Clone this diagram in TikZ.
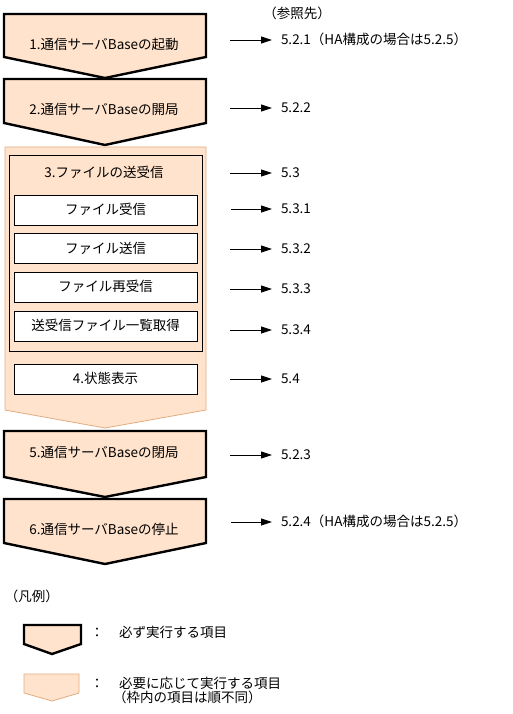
\documentclass[tikz,border=0pt]{standalone}
\usepackage{fontspec}
\setmainfont{Noto Sans CJK JP}
\usetikzlibrary{arrows.meta,positioning}
\definecolor{FlowPeach}{HTML}{FFE3CC}
\definecolor{FlowTan}{HTML}{E2AC80}

\begin{document}
\begin{tikzpicture}[x=1pt,y=-1pt,
        node distance=8pt,
        font=\fontsize{13.5}{13.5}\selectfont,
        txt/.style={inner sep=0pt,text height=11pt,text depth=2.5pt},
        must/.style={draw=black,line width=2.4pt,fill=FlowPeach,line join=miter},
        maybe/.style={draw=FlowTan,line width=.8pt,fill=FlowPeach},
        frame/.style={draw=black,line width=.8pt},
        item/.style={txt,draw=black,line width=.8pt,fill=white,
          minimum width=183pt,minimum height=30pt},
        ref/.style={txt,anchor=west,outer xsep=9pt},
        arrow/.style={-{Triangle[length=11pt,width=7pt]},line width=.8pt}
      ]
        \useasboundingbox (0,0) rectangle (512,714);
        % flow steps
        \draw[must] (4,14)--(206,14)--(206,57)--(105,78)--(4,57)--cycle;
        \draw[must] (4,79)--(206,79)--(206,123)--(105,145)--(4,123)--cycle;
        \draw[maybe] (5,147)--(206,147)--(206,410)--(105,428)--(5,410)--cycle;
        \draw[must] (4,431)--(206,431)--(206,477)--(105,497)--(4,477)--cycle;
        \draw[must] (4,499)--(206,499)--(206,543)--(105,564)--(4,543)--cycle;
        \draw[frame] (9,155) rectangle (202,351);
        \node[txt] (start) at (104,45) {1.通信サーバBaseの起動};
        \node[txt] (open) at (104,110) {2.通信サーバBaseの開局};
        \node[txt] (xfer) at (104,173) {3.ファイルの送受信};
        \node[item] (recv) at (105.5,210) {ファイル受信};
        \node[item,below=of recv] (send) {ファイル送信};
        \node[item,below=of send] (resend) {ファイル再受信};
        \node[item,below=of resend] (list) {送受信ファイル一覧取得};
        \node[item] (status) at (105.5,379) {4.状態表示};
        \node[txt] (close) at (104,453) {5.通信サーバBaseの閉局};
        \node[txt] (stop) at (104,530) {6.通信サーバBaseの停止};
        % references
        \node[txt] (refhead) at (297,14) {（参照先）};
        \node[ref] (r1) at (272,40) {5.2.1（HA構成の場合は5.2.5）};
        \node[ref] (r2) at (272,108) {5.2.2};
        \node[ref] (r3) at (272,173) {5.3};
        \node[ref] (r31) at (272,209) {5.3.1};
        \node[ref] (r32) at (272,249) {5.3.2};
        \node[ref] (r33) at (272,289) {5.3.3};
        \node[ref] (r34) at (272,330) {5.3.4};
        \node[ref] (r4) at (272,379) {5.4};
        \node[ref] (r5) at (272,455) {5.2.3};
        \node[ref] (r6) at (272,522) {5.2.4（HA構成の場合は5.2.5）};
        \coordinate (a1) at (230,40);
        \coordinate (a2) at (230,108);
        \coordinate (a3) at (230,173);
        \coordinate (a31) at (231,209);
        \coordinate (a32) at (230,249);
        \coordinate (a33) at (230,289);
        \coordinate (a34) at (230,330);
        \coordinate (a4) at (230,379);
        \coordinate (a5) at (230,455);
        \coordinate (a6) at (231,522);
        \draw[arrow] (a1)--(r1);
        \draw[arrow] (a2)--(r2);
        \draw[arrow] (a3)--(r3);
        \draw[arrow] (a31)--(r31);
        \draw[arrow] (a32)--(r32);
        \draw[arrow] (a33)--(r33);
        \draw[arrow] (a34)--(r34);
        \draw[arrow] (a4)--(r4);
        \draw[arrow] (a5)--(r5);
        \draw[arrow] (a6)--(r6);
        % legend
        \node[txt] (legend) at (32,597) {（凡例）};
        \draw[must] (24,625)--(81,625)--(81,644)--(52,654)--(24,644)--cycle;
        \draw[maybe] (24,674)--(79,674)--(79,693)--(52,701)--(24,693)--cycle;
        \node[txt] (colon1) at (97,633) {：};
        \node[txt,anchor=west] (musttext) at (119,633) {必ず実行する項目};
        \node[txt] (colon2) at (97,684) {：};
        \node[txt,anchor=north west,align=left,text height=,text depth=] (maybetext) at (119,677)
          {必要に応じて実行する項目\\\hspace{-.45em}（枠内の項目は順不同）};
      \end{tikzpicture}
\end{document}
